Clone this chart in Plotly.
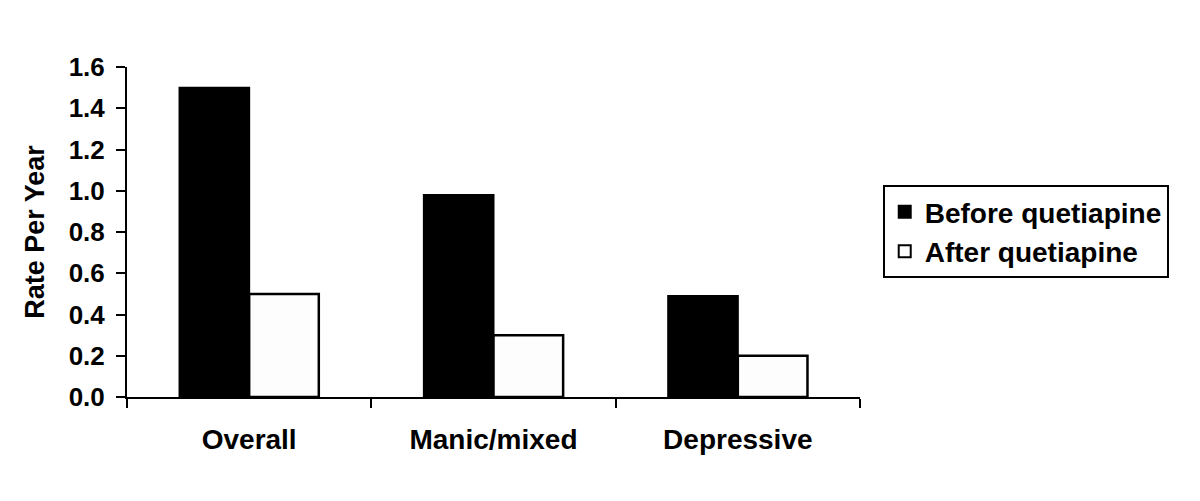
import plotly.graph_objects as go

# Données
categories = ["Overall", "Manic/mixed", "Depressive"]
before_values = [1.50, 0.98, 0.49]
after_values = [0.50, 0.30, 0.20]
y_ticks = [0.0, 0.2, 0.4, 0.6, 0.8, 1.0, 1.2, 1.4, 1.6]

FONT = "Liberation Sans, Arial, sans-serif"

fig = go.Figure()

fig.add_trace(go.Bar(
    x=categories,
    y=before_values,
    name="Before quetiapine",
    marker=dict(color="black", line=dict(color="black", width=2)),
))

fig.add_trace(go.Bar(
    x=categories,
    y=after_values,
    name="After quetiapine",
    marker=dict(color="#fdfdfd", line=dict(color="black", width=2.5)),
))

# La page a une marge de 8 px : on compense dans la taille et les marges
fig.update_layout(
    width=1184,
    height=485,
    barmode="group",
    bargap=0.43,
    bargroupgap=0,
    plot_bgcolor="white",
    paper_bgcolor="white",
    margin=dict(l=119, r=332, t=59, b=96),
    font=dict(family=FONT, size=24, color="black", weight="bold"),
    showlegend=True,
    legend=dict(
        x=1.031,
        y=0.642,
        xanchor="left",
        yanchor="top",
        bordercolor="black",
        borderwidth=2,
        font=dict(family=FONT, size=28, color="black", weight="bold"),
        itemsizing="constant",
    ),
    xaxis=dict(
        showline=True,
        linecolor="black",
        linewidth=2,
        ticks="outside",
        tickson="boundaries",
        ticklen=9,
        tickwidth=2,
        tickcolor="black",
        showgrid=False,
        tickfont=dict(size=28),
        ticklabelstandoff=16,
    ),
    yaxis=dict(
        range=[0, 1.6],
        tickvals=y_ticks,
        tickformat=".1f",
        showline=True,
        linecolor="black",
        linewidth=2,
        ticks="outside",
        ticklen=9,
        tickwidth=2,
        tickcolor="black",
        showgrid=False,
        zeroline=False,
        tickfont=dict(size=26),
        ticklabelstandoff=6,
        title=dict(text="Rate Per Year", font=dict(size=27), standoff=16),
    ),
)

fig.write_html("out.html")
